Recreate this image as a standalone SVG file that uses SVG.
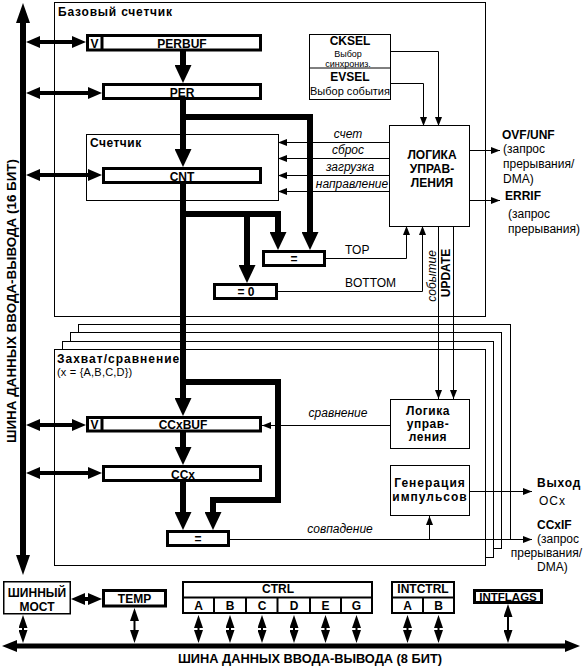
<svg xmlns="http://www.w3.org/2000/svg" width="584" height="668" viewBox="0 0 584 668">
<style>
text{font-family:"Liberation Sans",Arial,sans-serif;font-size:12px;fill:#000}
.b{font-weight:bold}
.i{font-style:italic}
.m{text-anchor:middle}
.s9{font-size:9px}
.s11{font-size:11px}
.thin{fill:none;stroke:#000;stroke-width:1}
.box{fill:#fff;stroke:#000;stroke-width:1}
.reg{fill:#fff;stroke:#000;stroke-width:3}
.reg2{fill:#fff;stroke:#000;stroke-width:2}
.flow{fill:none;stroke:#000;stroke-width:6;stroke-linejoin:miter}
.bus{fill:none;stroke:#000;stroke-width:4}
.sm{fill:none;stroke:#000;stroke-width:2}
.ta{marker-end:url(#ta)}
</style>
<defs>
<marker id="ta" markerUnits="userSpaceOnUse" markerWidth="9" markerHeight="7" refX="9" refY="3.5" orient="auto"><path d="M0,0 L9,3.5 L0,7 z"/></marker>
<marker id="ba" markerUnits="userSpaceOnUse" markerWidth="14" markerHeight="12" refX="1" refY="6" orient="auto-start-reverse"><path d="M0,0 L14,6 L0,12 z"/></marker>
<marker id="fa" markerUnits="userSpaceOnUse" markerWidth="18" markerHeight="17" refX="1" refY="8.5" orient="auto"><path d="M0,0 L18,8.5 L0,17 z"/></marker>
<marker id="sa" markerUnits="userSpaceOnUse" markerWidth="13" markerHeight="9" refX="1" refY="4.5" orient="auto-start-reverse"><path d="M0,0 L13,4.5 L0,9 z"/></marker>
<marker id="va" markerUnits="userSpaceOnUse" markerWidth="20" markerHeight="14" refX="1" refY="7" orient="auto-start-reverse"><path d="M0,0 L20,7 L0,14 z"/></marker>
<marker id="ha" markerUnits="userSpaceOnUse" markerWidth="15" markerHeight="12" refX="1" refY="6" orient="auto-start-reverse"><path d="M0,0 L15,6 L0,12 z"/></marker>
</defs>
<rect width="584" height="668" fill="#fff"/>

<g id="base-counter">
<rect class="box" x="54.5" y="2.5" width="431" height="314"/>
<text class="b" x="58" y="16" style="letter-spacing:0.8px">Базовый счетчик</text>
</g>

<g id="capture-stack">
<rect class="box" x="78.5" y="324.5" width="432" height="215"/>
<rect class="box" x="70.5" y="332.5" width="431" height="216"/>
<rect class="box" x="62.5" y="341.5" width="431" height="216"/>
<rect class="box" x="54.5" y="349.5" width="431" height="216"/>
<text class="b" x="57" y="363" style="letter-spacing:1px">Захват/сравнение</text>
<text class="s11" x="57" y="375.5" style="letter-spacing:0.2px">(x = {A,B,C,D})</text>
</g>

<g id="counter">
<rect class="box" x="86.5" y="134.5" width="192" height="66"/>
<text class="b" x="90" y="147" style="letter-spacing:0.5px">Счетчик</text>
</g>

<g id="perbuf">
<rect class="reg" x="87.5" y="35.5" width="173" height="14.5"/>
<line x1="102" y1="35" x2="102" y2="50" stroke="#000" stroke-width="3"/>
<text class="b m" x="94.5" y="47.5">V</text>
<text class="b m" x="182" y="47.5">PERBUF</text>
</g>

<g id="per">
<rect class="reg" x="103.5" y="84.5" width="157" height="14"/>
<text class="b m" x="182" y="96.5">PER</text>
</g>

<g id="cnt">
<rect class="reg" x="103.5" y="168.5" width="157" height="14"/>
<text class="b m" x="182" y="180.5">CNT</text>
</g>

<g id="cmp-top">
<rect class="reg" x="263.5" y="251.5" width="61" height="14"/>
<text class="b m" x="294" y="263">=</text>
</g>

<g id="cmp-zero">
<rect class="reg" x="214.5" y="284.5" width="62" height="14"/>
<text class="b m" x="246" y="296">= 0</text>
</g>

<g id="cksel-evsel">
<rect class="box" x="309.5" y="34.5" width="81" height="65"/>
<line class="thin" x1="309" y1="68" x2="390" y2="68"/>
<text class="b m" x="350" y="45">CKSEL</text>
<text class="s9 m" x="348" y="56.6">Выбор</text>
<text class="s9 m" x="348" y="66.6">синхрониз.</text>
<text class="b m" x="350" y="81">EVSEL</text>
<text class="s11 m" x="350" y="95">Выбор события</text>
</g>

<g id="control-logic">
<rect class="box" x="389.5" y="125.5" width="80" height="101"/>
<text class="b m" x="432" y="158.5">ЛОГИКА</text>
<text class="b m" x="432" y="172.5">УПРАВ-</text>
<text class="b m" x="432" y="186.5">ЛЕНИЯ</text>
</g>

<g id="ccxbuf">
<rect class="reg" x="87.5" y="417.5" width="173" height="13.5"/>
<line x1="102" y1="417" x2="102" y2="431" stroke="#000" stroke-width="3"/>
<text class="b m" x="94.5" y="429">V</text>
<text class="b m" x="183" y="429">CCxBUF</text>
</g>

<g id="ccx">
<rect class="reg" x="103.5" y="466.5" width="157" height="14"/>
<text class="b m" x="183" y="478.5">CCx</text>
</g>

<g id="cmp-ccx">
<rect class="reg" x="167.5" y="531.5" width="61" height="14"/>
<text class="b m" x="198" y="543">=</text>
</g>

<g id="cc-logic">
<rect class="box" x="390.5" y="399.5" width="79" height="49"/>
<text class="b m" x="428" y="415" style="letter-spacing:0.5px">Логика</text>
<text class="b m" x="428" y="427.5" style="letter-spacing:0.5px">управ-</text>
<text class="b m" x="428" y="440.5" style="letter-spacing:0.5px">ления</text>
</g>

<g id="pulse-gen">
<rect class="box" x="390.5" y="465.5" width="79" height="50"/>
<text class="b m" x="430" y="487" style="letter-spacing:1px">Генерация</text>
<text class="b m" x="430" y="501" style="letter-spacing:1px">импульсов</text>
</g>

<g id="outputs">
<text class="b" x="502" y="139">OVF/UNF</text>
<text x="503" y="153">(запрос</text>
<text x="503" y="168">прерывания/</text>
<text x="503" y="183">DMA)</text>
<text class="b" x="505" y="200">ERRIF</text>
<text x="508" y="218">(запрос</text>
<text x="508" y="233">прерывания)</text>
<text class="b" x="537" y="487" style="letter-spacing:0.8px">Выход</text>
<text x="539" y="505" style="letter-spacing:1px">OCx</text>
<text class="b" x="537" y="529">CCxIF</text>
<text x="537" y="543">(запрос</text>
<text x="582" y="557" text-anchor="end">прерывания/</text>
<text x="537" y="571">DMA)</text>
</g>

<g id="bus-bridge">
<rect fill="#fff" stroke="#000" stroke-width="1.5" x="3.75" y="581.75" width="66.5" height="32"/>
<text class="b m" x="37" y="597">ШИННЫЙ</text>
<text class="b m" x="37" y="611">МОСТ</text>
</g>

<g id="temp">
<rect class="reg" x="103.5" y="590.5" width="62" height="15.5"/>
<text class="b m" x="134.5" y="602.5">TEMP</text>
</g>

<g id="ctrl">
<rect class="reg2" x="183" y="582" width="189" height="31"/>
<line class="sm" x1="183" y1="597.5" x2="372" y2="597.5"/>
<line class="sm" x1="214" y1="597.5" x2="214" y2="613"/>
<line class="sm" x1="246" y1="597.5" x2="246" y2="613"/>
<line class="sm" x1="277.5" y1="597.5" x2="277.5" y2="613"/>
<line class="sm" x1="310" y1="597.5" x2="310" y2="613"/>
<line class="sm" x1="341" y1="597.5" x2="341" y2="613"/>
<text class="b m" x="278" y="592.5">CTRL</text>
<text class="b m" x="198.5" y="610">A</text>
<text class="b m" x="230" y="610">B</text>
<text class="b m" x="262" y="610">C</text>
<text class="b m" x="294" y="610">D</text>
<text class="b m" x="325.5" y="610">E</text>
<text class="b m" x="356.5" y="610">G</text>
</g>

<g id="intctrl">
<rect class="reg2" x="392" y="582" width="62" height="31"/>
<line class="sm" x1="392" y1="597.5" x2="454" y2="597.5"/>
<line class="sm" x1="423" y1="597.5" x2="423" y2="613"/>
<text class="b m" x="423" y="592.5">INTCTRL</text>
<text class="b m" x="407.5" y="610">A</text>
<text class="b m" x="438.5" y="610">B</text>
</g>

<g id="intflags">
<rect class="reg" x="474.5" y="590.5" width="67" height="12"/>
<text class="b m" x="508" y="601" style="font-size:11.5px">INTFLAGS</text>
</g>

<g id="connectors">
<line x1="23" y1="22" x2="23" y2="556" stroke="#000" stroke-width="6" marker-start="url(#va)" marker-end="url(#va)"/>
<line class="bus" x1="39" y1="42" x2="73" y2="42" marker-start="url(#ba)" marker-end="url(#ba)"/>
<line class="bus" x1="39" y1="93" x2="89" y2="93" marker-start="url(#ba)" marker-end="url(#ba)"/>
<line class="bus" x1="39" y1="175" x2="89" y2="175" marker-start="url(#ba)" marker-end="url(#ba)"/>
<line class="bus" x1="39" y1="425" x2="73" y2="425" marker-start="url(#ba)" marker-end="url(#ba)"/>
<line class="bus" x1="39" y1="473" x2="89" y2="473" marker-start="url(#ba)" marker-end="url(#ba)"/>
<line class="bus" x1="84" y1="599" x2="89" y2="599" marker-start="url(#ba)" marker-end="url(#ba)"/>
<line class="flow" x1="183" y1="51" x2="183" y2="66" marker-end="url(#fa)"/>
<line class="flow" x1="183" y1="100" x2="183" y2="150" marker-end="url(#fa)"/>
<polyline class="flow" points="183,117 310,117 310,233" marker-end="url(#fa)"/>
<line class="flow" x1="183" y1="184" x2="183" y2="399" marker-end="url(#fa)"/>
<polyline class="flow" points="183,214 278,214 278,233" marker-end="url(#fa)"/>
<line class="flow" x1="247" y1="214" x2="247" y2="266" marker-end="url(#fa)"/>
<polyline class="flow" points="183,382 278,382 278,500 213,500 213,513" marker-end="url(#fa)"/>
<line class="flow" x1="183" y1="432" x2="183" y2="448" marker-end="url(#fa)"/>
<line class="flow" x1="183" y1="482" x2="183" y2="513" marker-end="url(#fa)"/>
<polyline class="thin ta" points="390,51.5 438.5,51.5 438.5,126"/>
<polyline class="thin ta" points="390,83.5 423.5,83.5 423.5,126"/>
<line class="thin ta" x1="389" y1="142.5" x2="278" y2="142.5"/>
<line class="thin ta" x1="389" y1="158.5" x2="278" y2="158.5"/>
<line class="thin ta" x1="389" y1="175.5" x2="278" y2="175.5"/>
<line class="thin ta" x1="389" y1="191.5" x2="278" y2="191.5"/>
<line class="thin ta" x1="470" y1="150.5" x2="500" y2="150.5"/>
<line class="thin ta" x1="470" y1="200.5" x2="500" y2="200.5"/>
<polyline class="thin ta" points="326,258.5 406.5,258.5 406.5,226"/>
<polyline class="thin ta" points="278,291.5 422.5,291.5 422.5,226"/>
<line class="thin ta" x1="438.5" y1="227" x2="438.5" y2="399"/>
<line class="thin ta" x1="453.5" y1="227" x2="453.5" y2="399"/>
<line class="thin ta" x1="390" y1="425.5" x2="262" y2="425.5"/>
<line class="thin ta" x1="470" y1="491.5" x2="532" y2="491.5"/>
<line class="thin ta" x1="230" y1="539.5" x2="532" y2="539.5"/>
<line class="thin ta" x1="429.5" y1="539.5" x2="429.5" y2="516"/>
<line x1="16" y1="646" x2="566" y2="646" stroke="#000" stroke-width="5" marker-start="url(#ha)" marker-end="url(#ha)"/>
<line class="sm" x1="23" y1="627" x2="23" y2="631" marker-start="url(#sa)" marker-end="url(#sa)"/>
<line class="sm" x1="134.5" y1="620" x2="134.5" y2="631" marker-start="url(#sa)" marker-end="url(#sa)"/>
<line class="sm" x1="198.5" y1="627" x2="198.5" y2="631" marker-start="url(#sa)" marker-end="url(#sa)"/>
<line class="sm" x1="230" y1="627" x2="230" y2="631" marker-start="url(#sa)" marker-end="url(#sa)"/>
<line class="sm" x1="262" y1="627" x2="262" y2="631" marker-start="url(#sa)" marker-end="url(#sa)"/>
<line class="sm" x1="294" y1="627" x2="294" y2="631" marker-start="url(#sa)" marker-end="url(#sa)"/>
<line class="sm" x1="325.5" y1="627" x2="325.5" y2="631" marker-start="url(#sa)" marker-end="url(#sa)"/>
<line class="sm" x1="356.5" y1="627" x2="356.5" y2="631" marker-start="url(#sa)" marker-end="url(#sa)"/>
<line class="sm" x1="407.5" y1="627" x2="407.5" y2="631" marker-start="url(#sa)" marker-end="url(#sa)"/>
<line class="sm" x1="438.5" y1="627" x2="438.5" y2="631" marker-start="url(#sa)" marker-end="url(#sa)"/>
<line class="sm" x1="508" y1="616" x2="508" y2="631" marker-start="url(#sa)" marker-end="url(#sa)"/>
</g>

<g id="labels">
<text class="i m" x="348" y="138">счет</text>
<text class="i m" x="348" y="154">сброс</text>
<text class="i m" x="350" y="171">загрузка</text>
<text class="i m" x="352" y="188">направление</text>
<text x="345" y="254">TOP</text>
<text x="345" y="287">BOTTOM</text>
<text class="i m" transform="translate(436,276) rotate(-90)">событие</text>
<text class="b m" transform="translate(450,273) rotate(-90)">UPDATE</text>
<text class="i m" x="338" y="417">сравнение</text>
<text class="i m" x="340" y="533">совпадение</text>
<text class="b m" transform="translate(15.5,301) rotate(-90)" style="font-size:13px" textLength="284" lengthAdjust="spacingAndGlyphs">ШИНА ДАННЫХ ВВОДА-ВЫВОДА (16 БИТ)</text>
<text class="b m" x="310" y="663" style="font-size:13px" textLength="264" lengthAdjust="spacingAndGlyphs">ШИНА ДАННЫХ ВВОДА-ВЫВОДА (8 БИТ)</text>
</g>
</svg>
